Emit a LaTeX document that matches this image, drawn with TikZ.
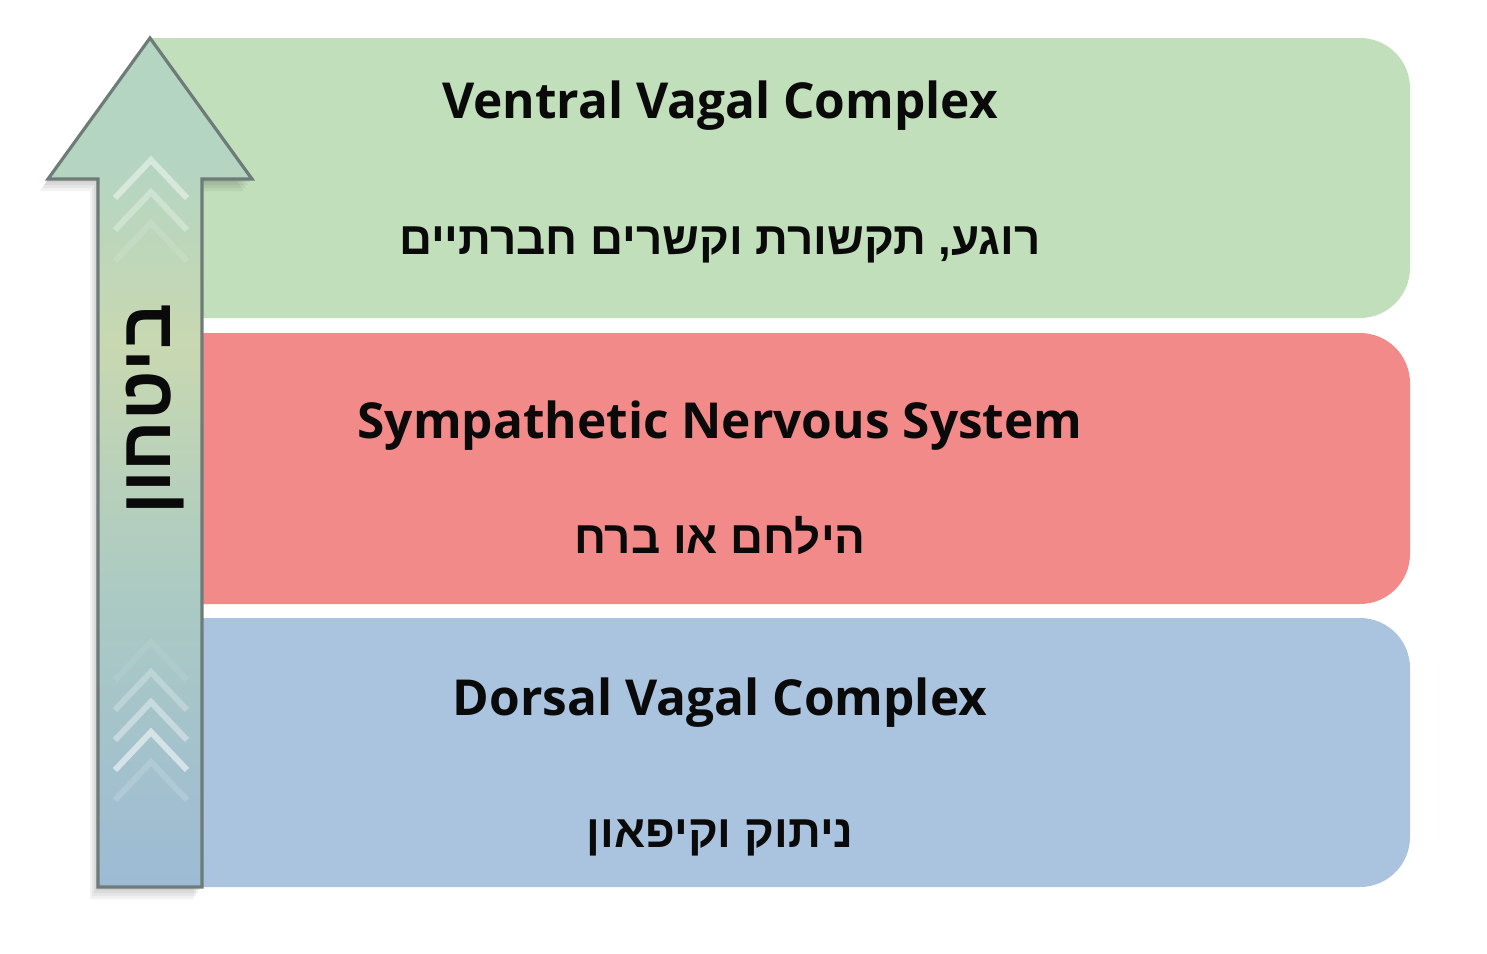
\documentclass[tikz,border=0pt]{standalone}
\usepackage{fontspec}
\setmainfont{Open Sans}
\newfontfamily\hebfont[Script=Hebrew]{Liberation Sans}
\TeXXeTstate=1
\definecolor{ink}{HTML}{0A0A0A}
\definecolor{calmGreen}{HTML}{C1DFBB}
\definecolor{alarmRed}{HTML}{F18A88}
\definecolor{shutBlue}{HTML}{AAC3DE}
\definecolor{arrowEdge}{HTML}{6E7B78}
\definecolor{arrowTop}{HTML}{B4D5C2}
\definecolor{arrowMid}{HTML}{C8D8B1}
\definecolor{arrowLow}{HTML}{ABCAC3}
\definecolor{arrowBot}{HTML}{9DBBD4}
\pgfdeclareverticalshading{safetyshade}{100bp}{color(0bp)=(arrowBot); color(25bp)=(arrowBot); color(42bp)=(arrowLow); color(57bp)=(arrowMid); color(68bp)=(arrowTop); color(100bp)=(arrowTop)}
\tikzset{
  layertitle/.style={font=\bfseries\fontsize{14.1}{17}\selectfont,text=ink,anchor=base,inner sep=0pt},
  layertext/.style={font=\hebfont\bfseries\fontsize{13}{16}\selectfont,text=ink,anchor=base,inner sep=0pt},
  chevron/.style={draw=white,line width=1.7pt,line cap=butt},
  arrowshadow/.style={fill=black,opacity=0.05}
}
\def\safetyarrow{(150,38) -- (252,179) -- (202,179) -- (202,887) -- (98,887) -- (98,179) -- (48,179) -- cycle}

\begin{document}
\begin{tikzpicture}[x=0.01cm,y=-0.01cm]
  \useasboundingbox (0,0) rectangle (1487,954);
  % layers
  \fill[calmGreen] (150,38) [rounded corners=0.5cm] -- (1410,38) -- (1410,318) [sharp corners] -- (150,318) -- cycle;
  \fill[alarmRed] (150,333) [rounded corners=0.5cm] -- (1410,333) -- (1410,604) [sharp corners] -- (150,604) -- cycle;
  \fill[shutBlue] (150,618) [rounded corners=0.5cm] -- (1410,618) -- (1410,887) [sharp corners] -- (150,887) -- cycle;
  % safety arrow
  \foreach \s in {2,4,6,8}
    \fill[arrowshadow,xshift=-0.01*\s cm,yshift=-0.015*\s cm] \safetyarrow;
  \shade[shading=safetyshade,draw=arrowEdge,line width=0.9pt] \safetyarrow;
  \foreach \y/\o in {160/0.45,192/0.3,223/0.12}
    \draw[chevron,opacity=\o] (115,\y+38) -- (151,\y) -- (187,\y+38);
  \foreach \y/\o in {642/0.08,672/0.25,702/0.38,732/0.55,762/0.15}
    \draw[chevron,opacity=\o] (115,\y+38) -- (151,\y) -- (187,\y+38);
  \node[font=\hebfont\bfseries\fontsize{20.5}{23}\selectfont,text=ink,rotate=90] (safety) at (155,409) {\beginR ביטחון\endR};
  % texts
  \node[layertitle] (ventralTitle) at (720,118) {Ventral Vagal Complex};
  \node[layertext] (ventralText) at (720,254) {\beginR רוגע, תקשורת וקשרים חברתיים\endR};
  \node[layertitle] (sympTitle) at (720,438) {Sympathetic Nervous System};
  \node[layertext] (sympText) at (720,553) {\beginR הילחם או ברח\endR};
  \node[layertitle] (dorsalTitle) at (720,715) {Dorsal Vagal Complex};
  \node[layertext] (dorsalText) at (720,847) {\beginR ניתוק וקיפאון\endR};
\end{tikzpicture}
\end{document}
